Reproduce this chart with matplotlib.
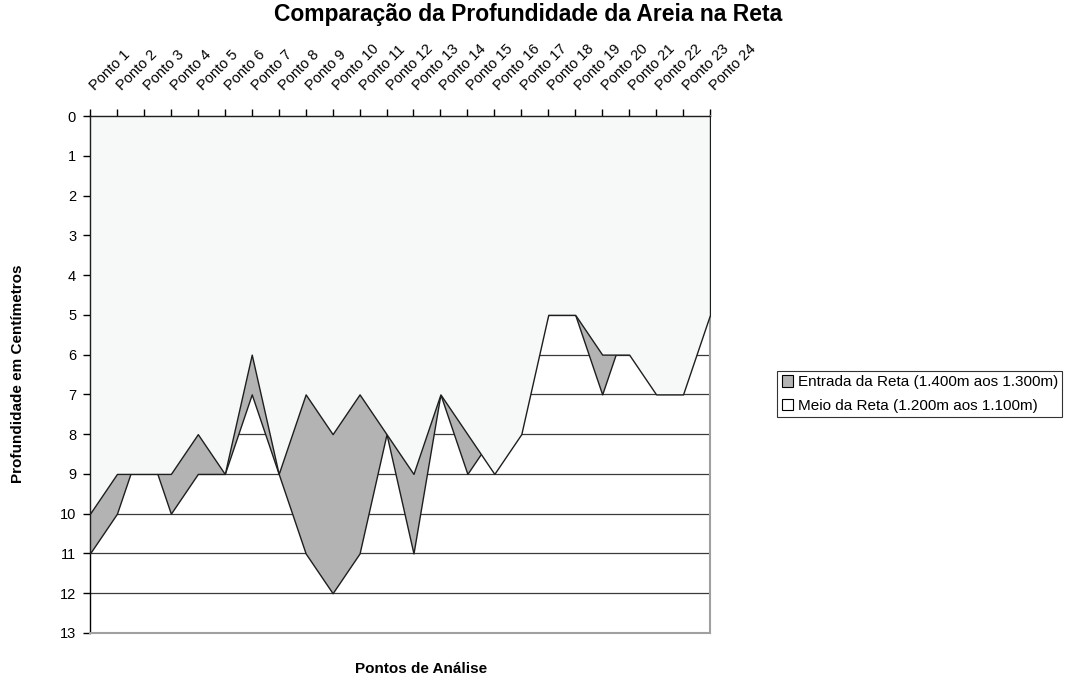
import numpy as np
import matplotlib
matplotlib.use("Agg")
import matplotlib.pyplot as plt
from matplotlib.patches import Patch
from matplotlib.transforms import ScaledTranslation

plt.rcParams['font.family'] = ['Liberation Sans', 'DejaVu Sans']

# profundidade (cm) em cada ponto
pontos = ["Ponto %d" % i for i in range(1, 25)]
entrada = [11, 10, 8, 10, 9, 9, 7, 9, 11, 12, 11, 8,
           11, 7, 9, 8, 7, 5, 5, 7, 5, 6, 6, 5]
meio = [10, 9, 9, 9, 8, 9, 6, 9, 7, 8, 7, 8,
        9, 7, 8, 9, 8, 5, 5, 6, 6, 7, 7, 5]
serie_nomes = ["Entrada da Reta (1.400m aos 1.300m)",
               "Meio da Reta (1.200m aos 1.100m)"]
yticks = list(range(0, 14))

W, H = 1075, 683
fig = plt.figure(figsize=(W / 100, H / 100), dpi=100)
fig.patch.set_facecolor('white')
ax = fig.add_axes([90 / W, 1 - 633 / H, 620 / W, 517 / H])
ax.set_facecolor('white')

x = np.arange(len(pontos))
cinza = '#b3b3b3'
claro = '#f7f9f9'
borda = '#1e1e1e'

# areas penduradas a partir do zero (eixo invertido)
ax.fill_between(x, 0, entrada, facecolor=cinza, edgecolor=borda,
                linewidth=1.0, zorder=3)
ax.fill_between(x, 0, meio, facecolor=claro, edgecolor=borda,
                linewidth=1.0, zorder=4)

ax.set_xlim(0, len(pontos) - 1)
ax.set_ylim(13, 0)
ax.set_yticks(yticks)
ax.set_yticklabels([str(v) for v in yticks], fontsize=10.5)
ax.yaxis.grid(True, color='#3a3a3a', linewidth=0.9, zorder=1)
ax.set_axisbelow(True)

ax.set_xticks(x)
ax.xaxis.tick_top()
ax.set_xticklabels(pontos, fontsize=10.5, rotation=45, ha='left',
                   va='baseline', rotation_mode='anchor')
ax.tick_params(axis='x', direction='out', length=5, width=1, pad=13,
               colors='black')
ax.tick_params(axis='y', direction='out', length=5, width=1, pad=5,
               colors='black')
shift = ScaledTranslation(5 / 100, 0, fig.dpi_scale_trans)
for lbl in ax.get_xticklabels():
    lbl.set_transform(lbl.get_transform() + shift)

ax.spines['top'].set_color('black')
ax.spines['left'].set_color('black')
ax.spines['top'].set_linewidth(1.0)
ax.spines['left'].set_linewidth(1.0)
for s in ('right', 'bottom'):
    ax.spines[s].set_color('#a0a0a0')
    ax.spines[s].set_linewidth(1.5)

fig.text(528 / W, 1 - 15 / H, "Comparação da Profundidade da Areia na Reta",
         fontsize=16.5, fontweight='bold', ha='center', va='center')
fig.text(18 / W, 1 - 374 / H, "Profundidade em Centímetros", fontsize=11,
         fontweight='bold', rotation=90, ha='center', va='center')
fig.text(421 / W, 1 - 669 / H, "Pontos de Análise", fontsize=11,
         fontweight='bold', ha='center', va='center')

handles = [Patch(facecolor=cinza, edgecolor='black', linewidth=0.8),
           Patch(facecolor='white', edgecolor='black', linewidth=0.8)]
leg = ax.legend(handles, serie_nomes, loc='center left',
                bbox_to_anchor=(777 / W, 1 - 394 / H),
                bbox_transform=fig.transFigure, fontsize=11, frameon=True,
                fancybox=False, edgecolor='black', handlelength=0.75,
                handleheight=0.75, handletextpad=0.3, labelspacing=0.6,
                borderpad=0.3, borderaxespad=0)
leg.get_frame().set_linewidth(0.8)

fig.savefig('out.png', dpi=100, facecolor='white')
